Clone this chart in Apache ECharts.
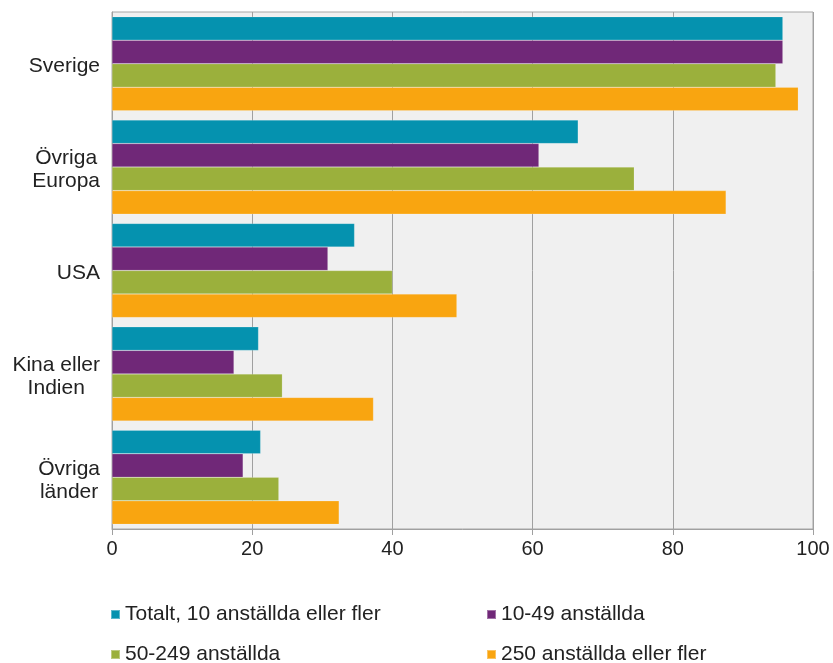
<!DOCTYPE html>
<html><head><meta charset="utf-8">
<script src="https://cdn.jsdelivr.net/npm/echarts@6/dist/echarts.min.js"></script>
<style>html,body{margin:0;padding:0;background:#fff}#c{width:833px;height:663px}</style>
</head><body><div id="c"></div>
<script>
const categories = ["Sverige", "Övriga\nEuropa", "USA", "Kina eller\nIndien", "Övriga\nländer"];
const seriesNames = ["Totalt, 10 anställda eller fler", "10-49 anställda", "50-249 anställda", "250 anställda eller fler"];
const totalt = [95.7, 66.5, 34.6, 20.9, 21.2];
const small = [95.7, 60.9, 30.8, 17.4, 18.7];
const medium = [94.7, 74.5, 40.0, 24.3, 23.8];
const large = [97.9, 87.6, 49.2, 37.3, 32.4];
const xTicks = [0, 20, 40, 60, 80, 100];
const colors = ["#0592AF", "#702878", "#9BB03C", "#F9A510"];
const values = [totalt, small, medium, large];

const font = "Liberation Sans, Arial, sans-serif";
const legendPos = [[110, 604], [486, 604], [110, 644], [486, 644]];
const chart = echarts.init(document.getElementById('c'));
chart.setOption({
  animation: false,
  color: colors,
  grid: { left: 112, right: 20, top: 12, bottom: 134, show: true, backgroundColor: '#f0f0f0', borderColor: '#a6a6a6', borderWidth: 1 },
  legend: seriesNames.map((n, i) => ({
    data: [n], left: legendPos[i][0], top: legendPos[i][1], padding: 0,
    icon: 'rect', itemWidth: 9, itemHeight: 9, itemGap: 6,
    textStyle: { fontFamily: font, fontSize: 21, color: '#222' }
  })),
  xAxis: {
    type: 'value', min: xTicks[0], max: xTicks[xTicks.length - 1], interval: 20,
    axisLine: { show: true, lineStyle: { color: '#a0a0a0' } },
    axisTick: { show: true, length: 6, lineStyle: { color: '#a0a0a0' } },
    splitLine: { show: true, lineStyle: { color: '#a0a0a0', width: 1 } },
    axisLabel: { fontFamily: font, fontSize: 20, color: '#222', margin: 10 }
  },
  yAxis: {
    type: 'category', data: categories, inverse: true,
    axisLine: { show: true, lineStyle: { color: '#a0a0a0' } },
    axisTick: { show: false },
    axisLabel: {
      align: 'right', margin: 12, padding: [6, 0, 0, 0],
      formatter: v => v.split('\n').map(s => '{c|' + s + '}').join('\n'),
      rich: { c: { fontFamily: font, fontSize: 21, color: '#222', align: 'center', lineHeight: 23 } }
    }
  },
  series: seriesNames.map((n, i) => ({
    name: n, type: 'bar', data: values[i], barGap: '0%', barCategoryGap: '9%',
    itemStyle: { color: colors[i], borderColor: 'rgba(255,255,255,0.35)', borderWidth: 0.5 }
  }))
});
</script></body></html>
